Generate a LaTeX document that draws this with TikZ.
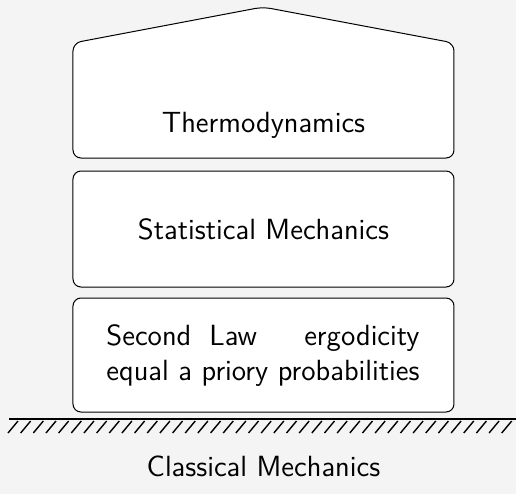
\documentclass[tikz,border=0pt]{standalone}
\definecolor{bgc}{RGB}{244,244,244}
\newcommand{\labfont}{\sffamily\fontsize{14.6pt}{18pt}\selectfont}
\begin{document}
\begin{tikzpicture}[x=0.5pt,y=-0.5pt,
  box/.style={draw, fill=white, rounded corners=4pt, line width=0.5pt},
  layer/.style={box, rectangle, minimum width=190.5pt, minimum height=58pt, inner sep=0pt, font=\labfont},
  lbl/.style={font=\labfont, inner sep=0pt}]
\fill[bgc] (0,0) rectangle (516,494);
\path[use as bounding box] (0,0) rectangle (516,494);
% house (thermodynamics)
\draw[box] (73,158) -- (73,43) -- (263,7) -- (454,43) -- (454,158) -- cycle;
\node[lbl] (th) at (263.5,125) {Thermodynamics};
% statistical mechanics
\node[layer] (sm) at (263.5,229) {Statistical Mechanics};
% foundations
\node[layer, minimum height=57pt] (fd) at (263.5,355) {};
\node[lbl, anchor=base] (l1) at (263,345) {%
  \setbox0\hbox{equal a priory probabilities}%
  \hbox to \wd0{Second\hspace{9pt}Law\hfill ergodicity}};
\node[lbl, anchor=base] (l2) at (263,380) {equal a priory probabilities};
% ground
\coordinate (gl) at (9,419);
\coordinate (gr) at (516,419);
\draw[line width=1.1pt] (gl) -- (gr);
\foreach \i in {0,...,39} {
  \draw[line width=0.7pt] ([xshift=\i*6.33pt]8,433) -- ++(10,-12);
}
\node[lbl] (cm) at (263.5,466) {Classical Mechanics};
\end{tikzpicture}
\end{document}
